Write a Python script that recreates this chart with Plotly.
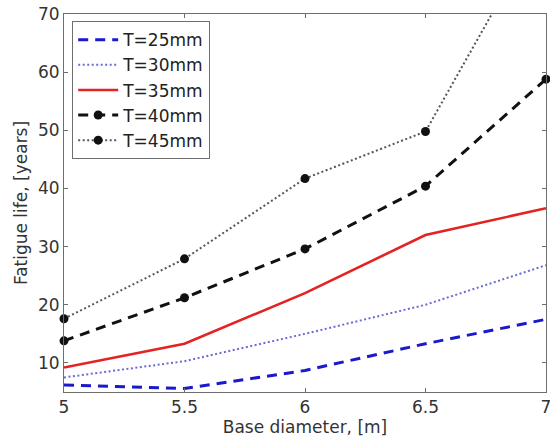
import plotly.graph_objects as go

# Base diameter [m]
diameter = [5.0, 5.5, 6.0, 6.5, 7.0]

# Fatigue life [years] for each wall thickness
life_t25 = [6.2, 5.6, 8.7, 13.3, 17.5]
life_t30 = [7.5, 10.3, 15.0, 20.0, 26.8]
life_t35 = [9.2, 13.3, 22.0, 32.0, 36.6]
life_t40 = [13.8, 21.2, 29.6, 40.4, 58.8]
life_t45 = [17.6, 27.9, 41.7, 49.8, 86.5]

x_ticks = [5, 5.5, 6, 6.5, 7]
y_ticks = [10, 20, 30, 40, 50, 60, 70]

FONT = "DejaVu Sans, sans-serif"
TEXT_SIZE = 17

fig = go.Figure()

fig.add_trace(go.Scatter(
    x=diameter, y=life_t25, name="T=25mm", mode="lines",
    line=dict(color="#1a1acc", width=3, dash="10px,7px"),
))
fig.add_trace(go.Scatter(
    x=diameter, y=life_t30, name="T=30mm", mode="lines",
    line=dict(color="#6b6bd6", width=2, dash="2px,2.5px"),
))
fig.add_trace(go.Scatter(
    x=diameter, y=life_t35, name="T=35mm", mode="lines",
    line=dict(color="#e52222", width=2.6),
))
fig.add_trace(go.Scatter(
    x=diameter, y=life_t40, name="T=40mm", mode="lines+markers",
    line=dict(color="#111111", width=3, dash="10px,7px"),
    marker=dict(symbol="circle", size=9, color="#111111"),
    cliponaxis=False,
))
fig.add_trace(go.Scatter(
    x=diameter, y=life_t45, name="T=45mm", mode="lines+markers",
    line=dict(color="#555555", width=2, dash="2px,2.5px"),
    marker=dict(symbol="circle", size=9, color="#111111"),
    cliponaxis=False,
))

axis_common = dict(
    showline=True, mirror="ticks", linecolor="#6e6e6e", linewidth=1,
    ticks="inside", ticklen=4, tickcolor="#6e6e6e",
    showgrid=False, zeroline=False, automargin=False,
    tickfont=dict(family=FONT, size=TEXT_SIZE, color="#333333"),
)

fig.update_xaxes(
    range=[5, 7], tickvals=x_ticks, ticktext=[str(v) for v in x_ticks],
    ticklabeloverflow="allow",
    title=dict(text="Base diameter, [m]", font=dict(family=FONT, size=TEXT_SIZE, color="#333333"), standoff=0),
    **axis_common,
)
fig.update_yaxes(
    range=[5, 70], tickvals=y_ticks,
    title=dict(text="Fatigue life, [years]", font=dict(family=FONT, size=TEXT_SIZE, color="#333333"), standoff=6),
    **axis_common,
)

fig.update_layout(
    width=550, height=446,
    margin=dict(l=64, r=4, t=14, b=54),
    paper_bgcolor="white", plot_bgcolor="white",
    showlegend=True,
    legend=dict(
        x=0.017, y=0.981, xanchor="left", yanchor="top",
        bgcolor="white", bordercolor="#6e6e6e", borderwidth=1,
        font=dict(family=FONT, size=TEXT_SIZE, color="#222222"),
        tracegroupgap=0, itemwidth=40,
    ),
)

fig.write_html("out.html")
